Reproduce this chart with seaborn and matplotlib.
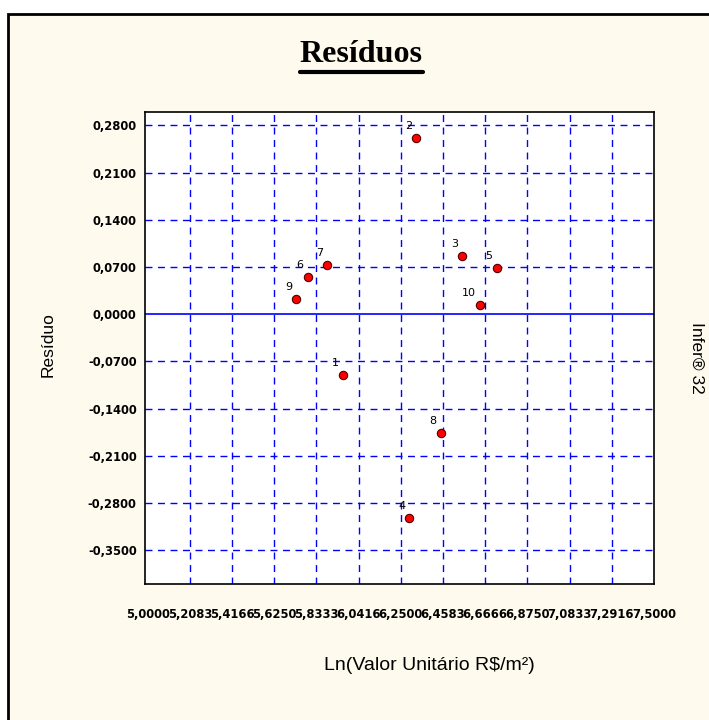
import matplotlib
matplotlib.use("Agg")
import matplotlib.pyplot as plt
import seaborn as sns
import pandas as pd
import numpy as np
from matplotlib.patches import Rectangle
from matplotlib.lines import Line2D

# dados
obs = ["1", "2", "3", "4", "5", "6", "7", "8", "9", "10"]
ln_valor = [5.964, 6.325, 6.552, 6.292, 6.724, 5.791, 5.885, 6.448, 5.734, 6.640]
residuo = [-0.0898, 0.2615, 0.0863, -0.3019, 0.0691, 0.0558, 0.0725, -0.1765, 0.0222, 0.0138]

x_ticks = [5.0 + i * 2.5 / 12 for i in range(13)]
x_labels = ["5,0000", "5,2083", "5,4166", "5,6250", "5,8333", "6,0416", "6,2500",
            "6,4583", "6,6666", "6,8750", "7,0833", "7,2916", "7,5000"]
y_ticks = [0.28, 0.21, 0.14, 0.07, 0.0, -0.07, -0.14, -0.21, -0.28, -0.35]
y_labels = ["0,2800", "0,2100", "0,1400", "0,0700", "0,0000",
            "-0,0700", "-0,1400", "-0,2100", "-0,2800", "-0,3500"]

df = pd.DataFrame({"obs": obs, "x": ln_valor, "res": residuo})

sns.set_style("white")
plt.rcParams['font.family'] = ['DejaVu Sans']
plt.rcParams['text.color'] = 'black'

W, H = 709, 720
fig = plt.figure(figsize=(W / 100, H / 100), dpi=100)
fig.patch.set_facecolor("white")

creme = "#FFFAEE"
frame = Rectangle((8 / W, -0.02), 1.1, 1 - 14 / H + 0.02, transform=fig.transFigure,
                  facecolor=creme, edgecolor="black", linewidth=2, zorder=-10)
fig.patches.append(frame)

ax = fig.add_axes([145 / W, 1 - 584 / H, (654 - 145) / W, (584 - 112) / H])
ax.set_facecolor("white")

sns.scatterplot(data=df, x="x", y="res", ax=ax, color="#FF0000", edgecolor="#500000",
                linewidth=0.8, s=36, marker="o", zorder=5, legend=False)

for _, r in df.iterrows():
    ax.annotate(r["obs"], (r["x"], r["res"]), xytext=(-3, 5), textcoords="offset points",
                ha="right", va="bottom", fontsize=8, color="black", zorder=6)

ax.set_xlim(4.987, 7.5)
ax.set_ylim(-0.4, 0.3)
ax.set_xticks(x_ticks)
ax.set_xticklabels(x_labels)
ax.set_yticks(y_ticks)
ax.set_yticklabels(y_labels)
ax.tick_params(axis="both", direction="out", length=4, width=1, color="black",
               labelsize=8.3, labelcolor="black")
ax.tick_params(axis="x", pad=13)
ax.tick_params(axis="y", pad=2)
for lab in ax.get_xticklabels() + ax.get_yticklabels():
    lab.set_fontweight("bold")

for v in x_ticks[1:-1]:
    ax.axvline(v, color="#0000FF", linestyle=(0, (5, 4)), linewidth=1, zorder=1)
for v in y_ticks:
    if v == 0.0:
        ax.axhline(v, color="#0000FF", linestyle="-", linewidth=1.2, zorder=1)
    else:
        ax.axhline(v, color="#0000FF", linestyle=(0, (5, 4)), linewidth=1, zorder=1)

for sp in ax.spines.values():
    sp.set_visible(True)
    sp.set_color("black")
    sp.set_linewidth(1.2)

ax.set_xlabel("")
ax.set_ylabel("")

t = fig.text(361 / W, 1 - 55 / H, "Resíduos", ha="center", va="center",
             fontsize=23, fontweight="bold", family="Liberation Serif", color="black")
fig.canvas.draw()
bb = t.get_window_extent(fig.canvas.get_renderer())
uy = (bb.y0 - 2) / H
fig.lines.append(Line2D([bb.x0 / W, bb.x1 / W], [uy, uy], transform=fig.transFigure,
                        color="black", linewidth=3))

fig.text(429 / W, 1 - 665 / H, "Ln(Valor Unitário R$/m²)", ha="center", va="center",
         fontsize=14, family="Liberation Sans", color="black")
fig.text(48 / W, 1 - 345 / H, "Resíduo", ha="center", va="center", rotation=90,
         fontsize=12.5, family="Liberation Sans", color="black")
fig.text(697 / W, 1 - 358 / H, "Infer® 32", ha="center", va="center", rotation=-90,
         fontsize=12.5, family="Liberation Sans", color="black")

fig.savefig("out.png", dpi=100, facecolor=fig.get_facecolor())
